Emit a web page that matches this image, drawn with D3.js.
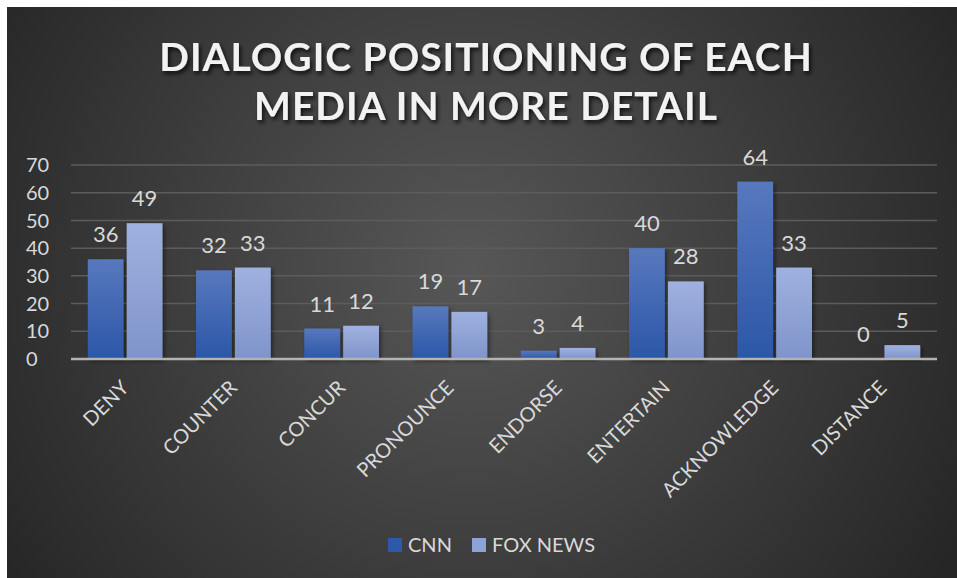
<!DOCTYPE html>
<meta charset="utf-8">
<style>
  body { margin: 0; background: #fff; }
  text { font-family: Lato, "Open Sans", sans-serif; }
</style>
<svg width="957" height="578"></svg>
<script src="https://cdn.jsdelivr.net/npm/d3@7/dist/d3.min.js"></script>
<script>

var categories = ["DENY", "COUNTER", "CONCUR", "PRONOUNCE", "ENDORSE", "ENTERTAIN", "ACKNOWLEDGE", "DISTANCE"];
var cnn = [36, 32, 11, 19, 3, 40, 64, 0];
var fox = [49, 33, 12, 17, 4, 28, 33, 5];
var seriesNames = ["CNN", "FOX NEWS"];
var yTicks = [0, 10, 20, 30, 40, 50, 60, 70];

var svg = d3.select("svg"),
    width = +svg.attr("width"),
    height = +svg.attr("height");

var defs = svg.append("defs");

var bg = defs.append("radialGradient")
    .attr("id", "bg")
    .attr("gradientUnits", "userSpaceOnUse")
    .attr("cx", 470).attr("cy", 270).attr("r", 560);
bg.append("stop").attr("offset", "0%").attr("stop-color", "#575757");
bg.append("stop").attr("offset", "100%").attr("stop-color", "#262626");

function barGrad(id, top, bottom) {
  var g = defs.append("linearGradient").attr("id", id)
      .attr("x1", 0).attr("y1", 0).attr("x2", 0).attr("y2", 1);
  g.append("stop").attr("offset", "0%").attr("stop-color", top);
  g.append("stop").attr("offset", "100%").attr("stop-color", bottom);
}
barGrad("gCnn", "#5878bd", "#2b57a8");
barGrad("gFox", "#9fb1df", "#7f94cb");

var shadow = defs.append("filter").attr("id", "shadow")
    .attr("x", "-20%").attr("y", "-20%").attr("width", "140%").attr("height", "140%");
shadow.append("feDropShadow").attr("dx", 2).attr("dy", 2)
    .attr("stdDeviation", 2).attr("flood-color", "#000").attr("flood-opacity", 0.45);

var tshadow = defs.append("filter").attr("id", "tshadow")
    .attr("x", "-10%").attr("y", "-30%").attr("width", "120%").attr("height", "160%");
tshadow.append("feDropShadow").attr("dx", 2).attr("dy", 3)
    .attr("stdDeviation", 2).attr("flood-color", "#000").attr("flood-opacity", 0.75);

svg.append("rect")
    .attr("x", 7).attr("y", 7)
    .attr("width", width - 7).attr("height", height - 7)
    .attr("fill", "url(#bg)");

// title
var title = svg.append("text")
    .attr("text-anchor", "middle")
    .attr("fill", "#f2f2f2")
    .attr("font-weight", "bold")
    .attr("font-size", 39)
    .attr("letter-spacing", 1)
    .attr("filter", "url(#tshadow)");
title.append("tspan").attr("x", 486).attr("y", 71).text("DIALOGIC POSITIONING OF EACH");
title.append("tspan").attr("x", 486).attr("y", 120).text("MEDIA IN MORE DETAIL");

var margin = {left: 71, right: 20, top: 165, bottom: 219};

var x0 = d3.scaleBand()
    .domain(categories)
    .range([margin.left, width - margin.right])
    .paddingInner(0.31)
    .paddingOuter(0.155);

var x1 = d3.scaleBand()
    .domain(seriesNames)
    .range([0, x0.bandwidth()])
    .paddingInner(0.08);

var y = d3.scaleLinear()
    .domain([0, 70])
    .range([height - margin.bottom, margin.top]);

// gridlines
svg.append("g")
  .selectAll("line")
  .data(yTicks.slice(1))
  .enter().append("line")
    .attr("x1", margin.left).attr("x2", width - margin.right)
    .attr("y1", function(d) { return y(d); })
    .attr("y2", function(d) { return y(d); })
    .attr("stroke", "#5c5c5c")
    .attr("stroke-width", 1.5);

// y tick labels
svg.append("g")
  .selectAll("text")
  .data(yTicks)
  .enter().append("text")
    .attr("x", 26)
    .attr("y", function(d) { return y(d); })
    .attr("dy", "0.36em")
    .attr("fill", "#d9d9d9")
    .attr("font-size", 20)
    .text(function(d) { return d; });

var rows = categories.map(function(c, i) {
  return {cat: c, values: [{s: "CNN", v: cnn[i]}, {s: "FOX NEWS", v: fox[i]}]};
});

var groups = svg.append("g")
  .selectAll("g")
  .data(rows)
  .enter().append("g")
    .attr("transform", function(d) { return "translate(" + x0(d.cat) + ",0)"; });

groups.selectAll("rect")
  .data(function(d) { return d.values; })
  .enter().append("rect")
    .attr("x", function(d) { return x1(d.s); })
    .attr("width", x1.bandwidth())
    .attr("y", function(d) { return y(d.v); })
    .attr("height", function(d) { return y(0) - y(d.v); })
    .attr("fill", function(d) { return d.s === "CNN" ? "url(#gCnn)" : "url(#gFox)"; })
    .attr("filter", "url(#shadow)");

groups.selectAll("text")
  .data(function(d) { return d.values; })
  .enter().append("text")
    .attr("x", function(d) { return x1(d.s) + x1.bandwidth() / 2; })
    .attr("y", function(d) { return y(d.v) - 17; })
    .attr("text-anchor", "middle")
    .attr("fill", "#d9d9d9")
    .attr("font-size", 22)
    .text(function(d) { return d.v; });

// baseline
svg.append("line")
    .attr("x1", margin.left).attr("x2", width - margin.right)
    .attr("y1", y(0)).attr("y2", y(0))
    .attr("stroke", "#b3b3b3")
    .attr("stroke-width", 2.5);

// x labels
svg.append("g")
  .selectAll("text")
  .data(categories)
  .enter().append("text")
    .attr("transform", function(d) {
      return "translate(" + (x0(d) + x0.bandwidth() / 2 + 5) + "," + 389 + ") rotate(-45)";
    })
    .attr("text-anchor", "end")
    .attr("fill", "#d9d9d9")
    .attr("font-size", 20)
    .text(function(d) { return d; });

// legend
var legend = svg.append("g");
var legendItems = [{name: "CNN", fill: "#2e59aa", x: 388}, {name: "FOX NEWS", fill: "#8da2d6", x: 472}];
legendItems.forEach(function(l) {
  legend.append("rect")
      .attr("x", l.x).attr("y", 538)
      .attr("width", 14).attr("height", 14)
      .attr("fill", l.fill);
  legend.append("text")
      .attr("x", l.x + 20).attr("y", 552)
      .attr("fill", "#d9d9d9")
      .attr("font-size", 20)
      .text(l.name);
});

</script>
